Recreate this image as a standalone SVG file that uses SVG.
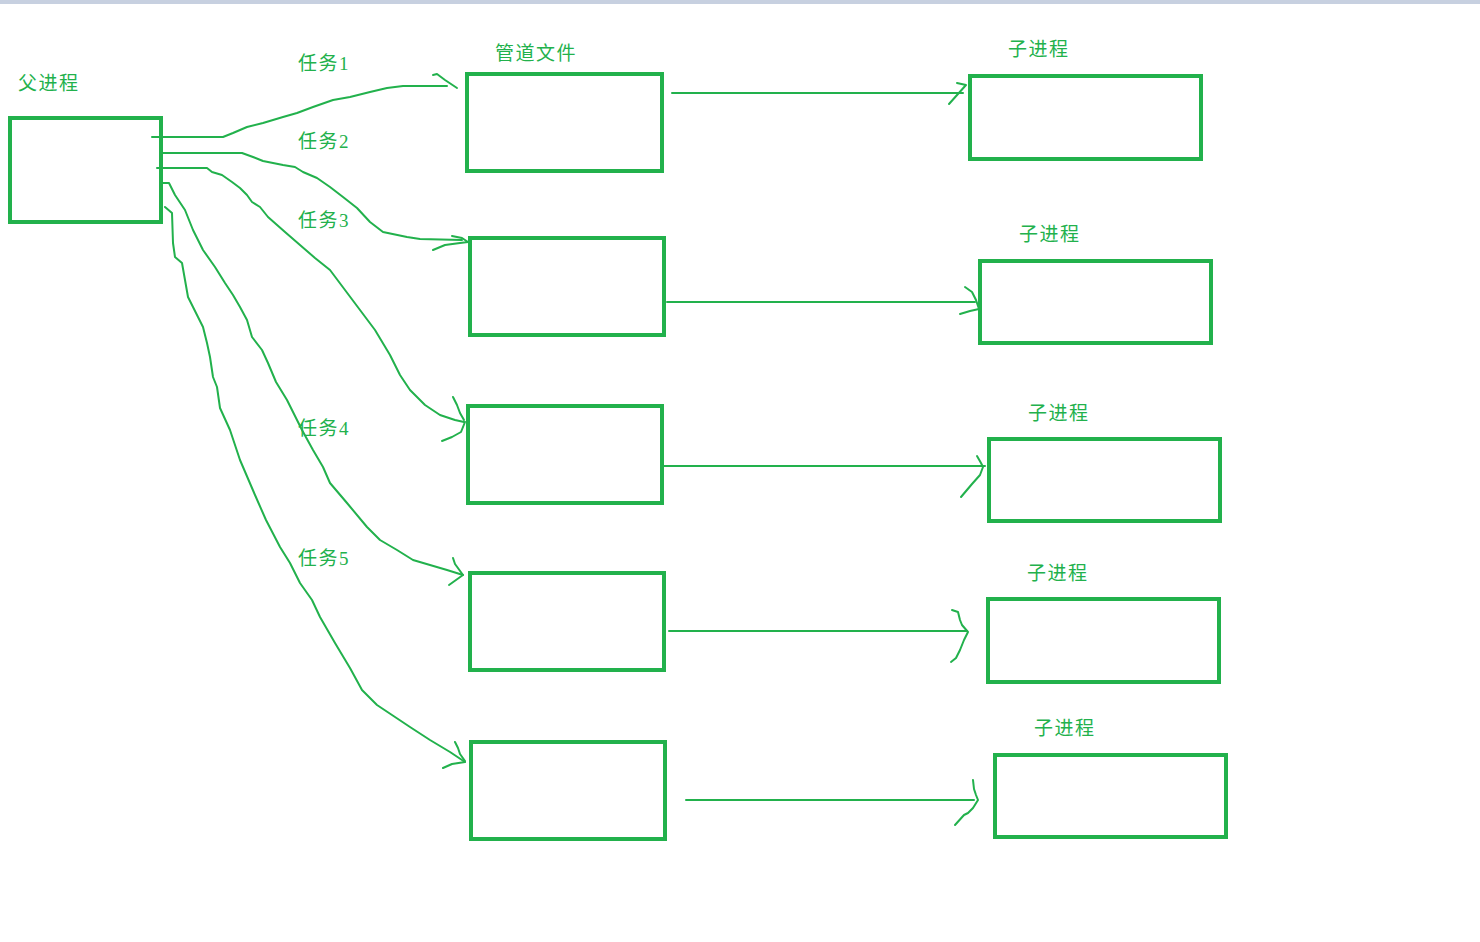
<svg xmlns="http://www.w3.org/2000/svg" width="1480" height="942" viewBox="0 0 1480 942">
<style>
.box{fill:none;stroke:#22b14c;stroke-width:4}
.ln{fill:none;stroke:#22b14c;stroke-width:2;stroke-linejoin:round;stroke-linecap:round}
.t{fill:#22b14c;font-family:"Liberation Serif","Noto Sans CJK SC",serif;font-size:19px;letter-spacing:1.5px}
</style>
<rect x="0" y="0" width="1480" height="942" fill="#ffffff"/>
<rect x="0" y="0" width="1480" height="4" fill="#c7d0e0"/>

<g id="parent">
<rect class="box" x="10" y="118" width="151" height="104"/>
<text class="t" x="18" y="90">父进程</text>
</g>

<g id="pipe1">
<rect class="box" x="467" y="74" width="195" height="97"/>
<text class="t" x="495" y="60">管道文件</text>
</g>
<g id="pipe2"><rect class="box" x="470" y="238" width="194" height="97"/></g>
<g id="pipe3"><rect class="box" x="468" y="406" width="194" height="97"/></g>
<g id="pipe4"><rect class="box" x="470" y="573" width="194" height="97"/></g>
<g id="pipe5"><rect class="box" x="471" y="742" width="194" height="97"/></g>

<g id="child1">
<rect class="box" x="970" y="76" width="231" height="83"/>
<text class="t" x="1008" y="56">子进程</text>
</g>
<g id="child2">
<rect class="box" x="980" y="261" width="231" height="82"/>
<text class="t" x="1019" y="241">子进程</text>
</g>
<g id="child3">
<rect class="box" x="989" y="439" width="231" height="82"/>
<text class="t" x="1028" y="420">子进程</text>
</g>
<g id="child4">
<rect class="box" x="988" y="599" width="231" height="83"/>
<text class="t" x="1027" y="580">子进程</text>
</g>
<g id="child5">
<rect class="box" x="995" y="755" width="231" height="82"/>
<text class="t" x="1034" y="735">子进程</text>
</g>

<g id="connectors">
<!-- parent to pipes -->
<path class="ln" d="M152,137 L223,137 L233,133 L247,127 L263,123 L283,117 L297,113 L313,107 L333,100 L350,97 L370,92 L387,88 L403,86 L447,86"/>
<path class="ln" d="M433,75 L437,74 L445,80 L457,88"/>
<path class="ln" d="M163,153 L242,153 L253,157 L263,161 L283,165 L295,167 L303,172 L317,178 L330,187 L343,197 L357,208 L370,222 L383,232 L407,237 L420,239 L462,240"/>
<path class="ln" d="M452,236 L462,238 L468,242 M433,250 L445,245 L460,243 L468,242"/>
<path class="ln" d="M157,168 L207,168 L212,172 L222,175 L232,182 L240,188 L247,195 L252,202 L260,207 L268,217 L285,232 L300,245 L315,258 L330,270 L345,290 L360,310 L375,330 L390,355 L400,375 L410,390 L425,405 L440,415 L455,420 L464,422"/>
<path class="ln" d="M453,397 L457,405 L460,413 L464,420 M442,441 L452,437 L461,432 L465,422"/>
<path class="ln" d="M163,183 L169,183 L175,195 L185,210 L193,230 L203,250 L215,267 L225,283 L233,295 L240,307 L247,320 L252,337 L262,350 L268,363 L276,382 L287,400 L302,430 L313,450 L323,467 L330,483 L347,503 L367,527 L380,540 L397,550 L413,560 L430,565 L447,570 L463,575"/>
<path class="ln" d="M453,558 L455,564 L463,575 L449,585"/>
<path class="ln" d="M165,207 L172,213 L173,243 L175,257 L182,263 L185,280 L188,297 L193,307 L198,317 L203,327 L207,343 L210,357 L213,377 L217,387 L220,408 L230,430 L240,460 L255,495 L266,520 L280,547 L290,563 L300,583 L312,600 L320,617 L335,643 L350,668 L362,690 L377,705 L392,715 L410,727 L430,740 L450,752 L465,762"/>
<path class="ln" d="M455,742 L458,748 L460,754 L465,761 M443,768 L452,764 L465,762"/>
<text class="t" x="298" y="70">任务1</text>
<text class="t" x="298" y="148">任务2</text>
<text class="t" x="298" y="227">任务3</text>
<text class="t" x="298" y="435">任务4</text>
<text class="t" x="298" y="565">任务5</text>
<!-- pipes to children -->
<path class="ln" d="M672,93 L963,93"/>
<path class="ln" d="M957,83 L966,85 L949,104"/>
<path class="ln" d="M667,302 L975,302"/>
<path class="ln" d="M965,287 L972,292 L976,300 L979,309 L970,311 L960,314"/>
<path class="ln" d="M664,466 L985,466"/>
<path class="ln" d="M977,456 L981,463 L983,467 L980,475 L972,484 L961,497"/>
<path class="ln" d="M669,631 L967,631"/>
<path class="ln" d="M952,610 L958,612 L960,620 L962,625 L968,632 L964,640 L960,650 L956,658 L951,662"/>
<path class="ln" d="M686,800 L974,800"/>
<path class="ln" d="M973,780 L974,789 L976,795 L978,800 L973,808 L968,813 L964,815 L955,825"/>
</g>
</svg>
